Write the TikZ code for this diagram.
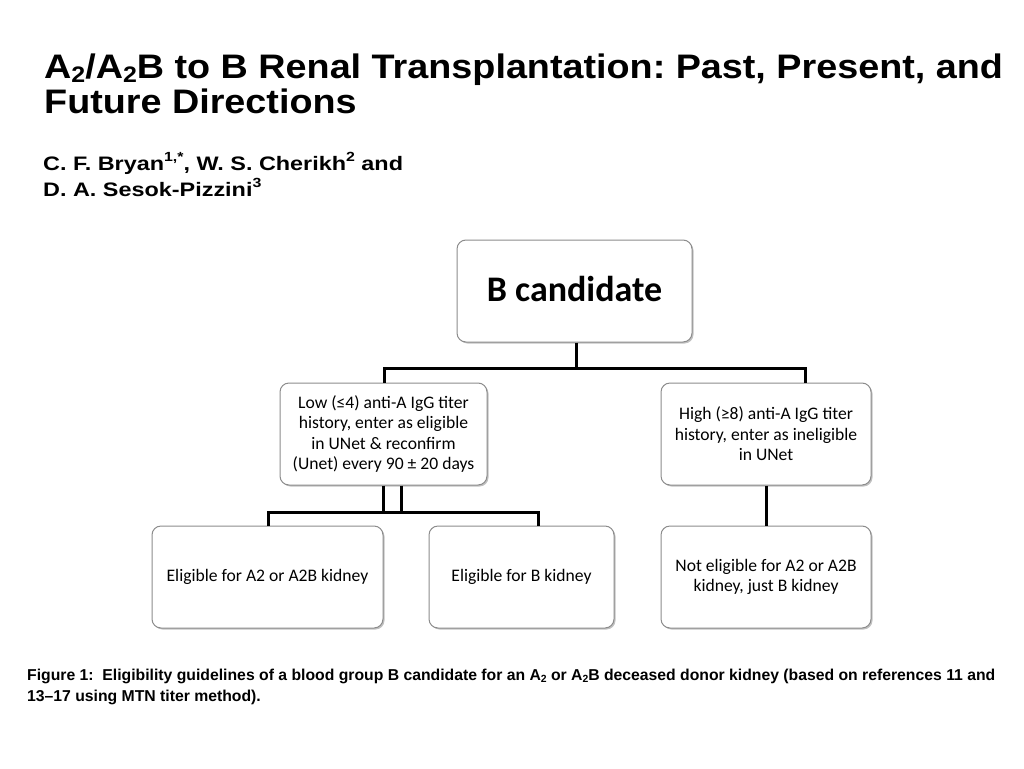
\documentclass[tikz,border=0pt]{standalone}
\usepackage{fontspec}
\setmainfont{Liberation Sans}
\newfontfamily\boxfont{Carlito}
\usetikzlibrary{shadows}
\frenchspacing
\newcommand\dnsub[1]{\raisebox{-0.14em}{\scalebox{0.66}{#1}}}
\newcommand\upsup[1]{\raisebox{0.42em}{\scalebox{0.68}{#1}}}
\begin{document}
\begin{tikzpicture}[x=1pt,y=1pt,
  box/.style={draw=black!45, line width=1pt, rounded corners=9pt, fill=white,
    drop shadow={shadow xshift=1.5pt, shadow yshift=-1.5pt, fill=black!40, opacity=0.6},
    align=center, font=\boxfont\fontsize{17.6}{20.5}\selectfont, inner sep=2pt},
  conn/.style={line width=3pt},
  ttl/.style={anchor=base west, inner sep=0pt, font=\bfseries\fontsize{34}{35}\selectfont},
  auth/.style={anchor=base west, inner sep=0pt, font=\bfseries\fontsize{19.5}{26}\selectfont},
  capt/.style={anchor=base west, inner sep=0pt, font=\bfseries\fontsize{15.75}{21}\selectfont}]
\useasboundingbox (0,0) rectangle (1024,-768);
\fill[white] (0,0) rectangle (1024,-768);
% title
\node[ttl] (t1) at (44,-78) {\scalebox{1.11}[1]{A\dnsub{2}/A\dnsub{2}B to B Renal Transplantation: Past, Present, and}};
\node[ttl] (t2) at (44,-113) {\scalebox{1.11}[1]{Future Directions}};
\node[auth] (a1) at (43,-170) {\scalebox{1.2}[1]{C. F. Bryan\upsup{1,*}, W. S. Cherikh\upsup{2} and}};
\node[auth] (a2) at (43,-196) {\scalebox{1.2}[1]{D. A. Sesok-Pizzini\upsup{3}}};
% boxes
\node[box, minimum width=235pt, minimum height=102pt, font=\boxfont\bfseries\fontsize{36}{40}\selectfont] (cand) at (574.5,-291) {\raisebox{4pt}{B candidate}};
\node[box, minimum width=207pt, minimum height=102pt] (low) at (383.5,-434) {Low (≤4) anti-A IgG titer\\history, enter as eligible\\in UNet \& reconfirm\\(Unet) every 90 ± 20 days};
\node[box, minimum width=210pt, minimum height=102pt] (high) at (766,-434) {High (≥8) anti-A IgG titer\\history, enter as ineligible\\in UNet};
\node[box, minimum width=231pt, minimum height=102pt] (ea2) at (267.5,-577) {Eligible for A2 or A2B kidney};
\node[box, minimum width=185pt, minimum height=102pt] (eb) at (521.5,-577) {Eligible for B kidney};
\node[box, minimum width=210pt, minimum height=102pt] (ne) at (766,-577) {Not eligible for A2 or A2B\\kidney, just B kidney};
% connectors
\coordinate (j1) at (576,-368);
\coordinate (jl) at (384,-368);
\coordinate (jr) at (805,-368);
\coordinate (k1) at (383,-512);
\coordinate (k2) at (401,-512);
\coordinate (kl) at (268,-512);
\coordinate (kr) at (538,-512);
\draw[conn] (cand.south -| j1) -- (j1);
\draw[conn] (low.north -| jl) -- (jl) -- (jr) -- (high.north -| jr);
\draw[conn] (low.south -| k1) -- (k1);
\draw[conn] (low.south -| k2) -- (k2);
\draw[conn] (ea2.north -| kl) -- (kl) -- (kr) -- (eb.north -| kr);
\draw[conn] (high.south) -- (ne.north);
% caption
\node[capt] (c1) at (27,-680) {Figure 1:\ \ Eligibility guidelines of a blood group B candidate for an A\dnsub{2} or A\dnsub{2}B deceased donor kidney (based on references 11 and};
\node[capt] (c2) at (27,-701) {13–17 using MTN titer method).};
\end{tikzpicture}
\end{document}
